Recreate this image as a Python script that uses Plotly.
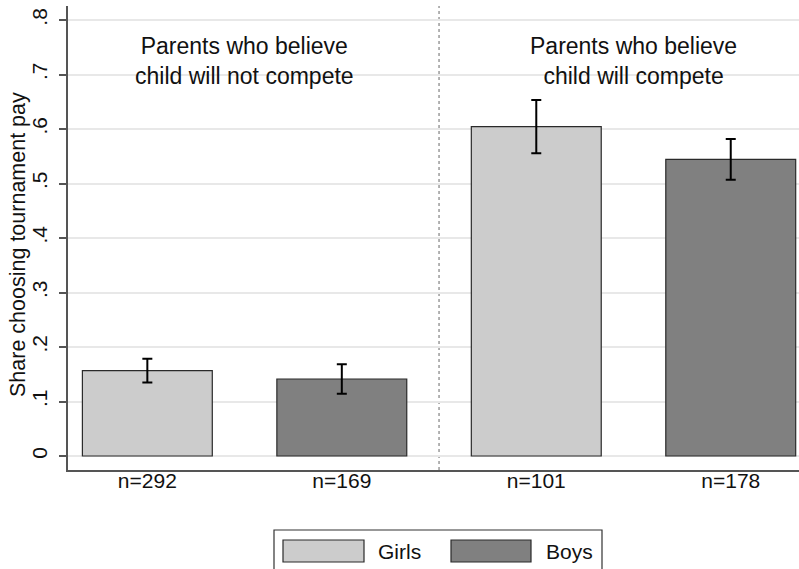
import plotly.graph_objects as go

# Share of parents choosing tournament pay, by belief and child's gender
groups = ["Parents who believe<br>child will not compete", "Parents who believe<br>child will compete"]
sexes = ["Girls", "Boys"]
share_not_compete = [0.1565, 0.1413]
share_compete = [0.6043, 0.5444]
ci_not_compete = [0.0218, 0.0272]
ci_compete = [0.0490, 0.0374]
n_labels = ["n=292", "n=169", "n=101", "n=178"]
y_ticks = [0, 0.1, 0.2, 0.3, 0.4, 0.5, 0.6, 0.7, 0.8]
y_ticktext = ["0", ".1", ".2", ".3", ".4", ".5", ".6", ".7", ".8"]

colors = {"Girls": "#cccccc", "Boys": "#808080"}
outline = "#2a2a2a"
FONT = "Liberation Sans, Arial, Helvetica, sans-serif"

W, H = 799, 569
ML, MR, MT, MB = 68, 0, 6, 99
PW, PH = W - ML - MR, H - MT - MB


def px_x(px):
    return (px - ML) / PW


def px_y(py):
    return (H - MB - py) / PH


fig = go.Figure()

shares = {"Girls": [share_not_compete[0], share_compete[0]],
          "Boys": [share_not_compete[1], share_compete[1]]}
cis = {"Girls": [ci_not_compete[0], ci_compete[0]],
       "Boys": [ci_not_compete[1], ci_compete[1]]}
positions = {"Girls": [0, 2], "Boys": [1, 3]}

for s in sexes:
    fig.add_trace(go.Bar(
        x=positions[s], y=shares[s], name=s, width=0.668,
        marker=dict(color=colors[s], line=dict(color=outline, width=1.2)),
        error_y=dict(type="data", array=cis[s], visible=True,
                     color="black", thickness=2, width=5),
        showlegend=False,
    ))

# divider between the two belief groups
fig.add_shape(type="line", xref="x", yref="paper", x0=1.5, x1=1.5, y0=0, y1=1,
              line=dict(color="#9a9a9a", width=1.5, dash="dot"), layer="below")

# group headings
for i, g in enumerate(groups):
    fig.add_annotation(x=0.5 + 2 * i, y=0.724, xref="x", yref="y", text=g,
                       showarrow=False, font=dict(family=FONT, size=23, color="#111"),
                       align="center")

# y-axis title
fig.add_annotation(x=0, y=px_y(245), xref="paper", yref="paper",
                   text="Share choosing tournament pay", textangle=-90,
                   showarrow=False, xanchor="center", yanchor="middle", xshift=-50,
                   font=dict(family=FONT, size=21.5, color="#111"))

# legend box drawn with wide swatches
fig.add_shape(type="rect", xref="paper", yref="paper",
              x0=px_x(274), x1=px_x(602), y0=px_y(530), y1=px_y(580),
              line=dict(color="#333", width=1.2), fillcolor="white")
legend_items = [("Girls", 283, 364, 376), ("Boys", 451, 531, 544)]
for name, sx0, sx1, tx in legend_items:
    fig.add_shape(type="rect", xref="paper", yref="paper",
                  x0=px_x(sx0), x1=px_x(sx1), y0=px_y(540), y1=px_y(562),
                  line=dict(color=outline, width=1.2), fillcolor=colors[name])
    fig.add_annotation(x=px_x(tx), y=px_y(551), xref="paper", yref="paper",
                       text=name, showarrow=False, xanchor="left", yanchor="middle",
                       font=dict(family=FONT, size=21, color="#111"))

fig.update_layout(
    width=W, height=H,
    margin=dict(l=ML, r=MR, t=MT, b=MB, pad=0),
    paper_bgcolor="white", plot_bgcolor="white",
    font=dict(family=FONT, size=21, color="#111"),
    barmode="overlay",
    xaxis=dict(range=[-0.408, 3.351], tickvals=[0, 1, 2, 3], ticktext=n_labels,
               showgrid=False, zeroline=False, showline=True, linecolor="#555",
               linewidth=1.5, ticks="", tickfont=dict(size=21),
               ticklabelstandoff=-9),
    yaxis=dict(range=[-0.0257, 0.8257], tickvals=y_ticks, ticktext=y_ticktext,
               tickangle=-90, showgrid=True, gridcolor="#e8e8e8", gridwidth=1.5,
               zeroline=False, showline=True, linecolor="#555", linewidth=1.5,
               ticks="outside", ticklen=7, tickcolor="#555", tickwidth=1.5,
               tickfont=dict(size=21), ticklabelstandoff=4),
)

fig.write_html("out.html")
